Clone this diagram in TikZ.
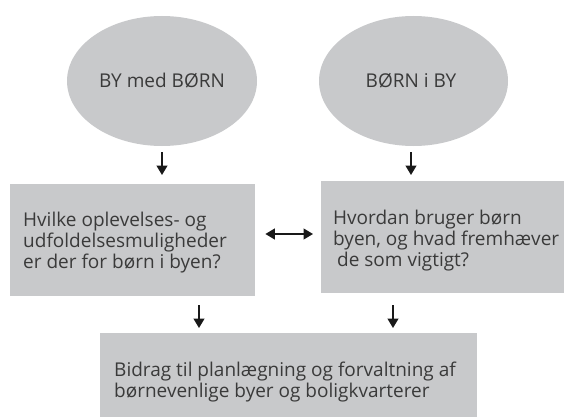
\documentclass[tikz,border=0pt]{standalone}
\usepackage{fontspec}
\setmainfont{Open Sans}
\usetikzlibrary{calc,arrows.meta,shapes.geometric}
\definecolor{boxgray}{HTML}{C8C9CB}
\definecolor{txtgray}{HTML}{3A3A3A}
\begin{document}
\begin{tikzpicture}[x=1pt,y=-1pt,
  oval/.style={ellipse, fill=boxgray, draw=none, inner sep=0pt},
  panel/.style={rectangle, fill=boxgray, draw=none, inner sep=0pt, anchor=north west},
  txt/.style={text=txtgray, font=\fontsize{19}{20.7}\selectfont, align=left, inner sep=0pt},
  arr/.style={draw=black!90, line width=1.3pt, -{Triangle[width=11pt,length=9.5pt]}},
  darr/.style={draw=black!90, line width=1.3pt, {Triangle[width=11pt,length=9.5pt]}-{Triangle[width=11pt,length=9.5pt]}}
]
\useasboundingbox (0,0) rectangle (564,417);
% ellipses
\node[oval, minimum width=190, minimum height=130] (e1) at (162,81) {};
\node[oval, minimum width=189, minimum height=130] (e2) at (413.5,81) {};
\node[txt, anchor=base] (te1) at (162,88) {BY med BØRN};
\node[txt, anchor=base] (te2) at (411,88) {BØRN i BY};
% boxes
\node[panel, minimum width=245, minimum height=112] (b1) at (10,184) {};
\node[panel, minimum width=243, minimum height=112] (b2) at (321,181) {};
\node[panel, minimum width=377, minimum height=84] (b3) at (100,333) {};
% texts (anchor = baseline of last line)
\node[txt, anchor=base west] (t1) at ($(b1.north west)+(13,84)$) {Hvilke oplevelses- og\\udfoldelsesmuligheder\\er der for børn i byen?};
\node[txt, anchor=base west] (t2) at ($(b2.north west)+(12,85)$) {Hvordan bruger børn\\byen, og hvad fremhæver\\\hspace{4pt}de som vigtigt?};
\node[txt, anchor=base west] (t3) at ($(b3.north west)+(14,64)$) {Bidrag til planlægning og forvaltning af\\børnevenlige byer og boligkvarterer};
% connectors
\coordinate (x1) at (199,0);
\coordinate (x2) at (393,0);
\coordinate (ym) at (0,234);
\draw[arr, shorten <=6pt, shorten >=9pt] (e1.south) -- (e1.south |- b1.north);
\draw[arr, shorten <=6pt, shorten >=6pt] ($(e2.south)+(-2.5,0)$) -- ($(e2.south |- b2.north)+(-2.5,0)$);
\draw[arr, shorten <=9pt, shorten >=5pt] (b1.south -| x1) -- (b3.north -| x1);
\draw[arr, shorten <=12pt, shorten >=5pt] (b2.south -| x2) -- (b3.north -| x2);
\draw[darr, shorten <=10pt, shorten >=8pt] (b1.east |- ym) -- (b2.west |- ym);
\end{tikzpicture}
\end{document}
